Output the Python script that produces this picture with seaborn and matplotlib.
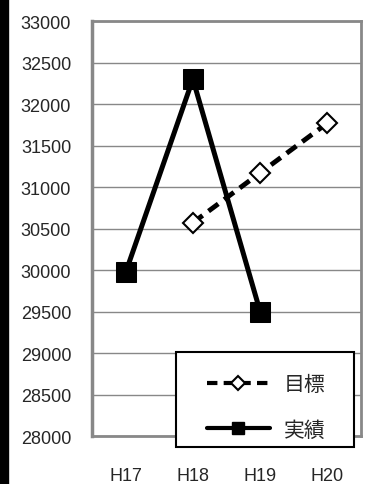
import matplotlib
matplotlib.use('Agg')
import matplotlib.pyplot as plt
from matplotlib.lines import Line2D
from matplotlib.patches import Rectangle
import seaborn as sns

categories = ['H17', 'H18', 'H19', 'H20']
actual_years = ['H17', 'H18', 'H19']
actual_vals = [29970, 32300, 29500]
target_years = ['H18', 'H19', 'H20']
target_vals = [30570, 31170, 31770]

sns.set_style('white')
plt.rcParams['font.family'] = ['Liberation Sans', 'Noto Sans CJK JP']

fig = plt.figure(figsize=(3.66, 4.85), dpi=100)
ax = fig.add_axes([92/366, 48/485, 269/366, 415/485])

xa = [categories.index(c) for c in actual_years]
xt = [categories.index(c) for c in target_years]

sns.lineplot(x=xt, y=target_vals, ax=ax, color='black', lw=3.5,
             linestyle=(0, (2.5, 1.5)), marker='D', markersize=10,
             markerfacecolor='white', markeredgecolor='black', markeredgewidth=1.5,
             zorder=3)
sns.lineplot(x=xa, y=actual_vals, ax=ax, color='black', lw=3.6,
             marker='s', markersize=14, markerfacecolor='black',
             markeredgecolor='black', zorder=4)

ax.set_xlim(-0.5, 3.5)
ax.set_ylim(28000, 33000)
ax.set_yticks(range(28000, 33001, 500))
ax.set_xticks(range(len(categories)))
ax.set_xticklabels(categories)
ax.set_xticks([0.5, 1.5, 2.5], minor=True)
ax.grid(axis='y', color='#888888', lw=1)
ax.set_axisbelow(True)
for s in ax.spines.values():
    s.set_color('#888888')
    s.set_linewidth(2)
ax.spines['left'].set_linewidth(2.5)
ax.tick_params(axis='y', length=0, pad=15, labelsize=13)
ax.tick_params(axis='x', which='major', length=0, pad=22, labelsize=13)
ax.tick_params(axis='x', which='minor', direction='in', length=4, color='#888888', width=1.5)

# legend box (drawn separately so its size matches the original)
box = Rectangle((176/366, 37/485), 178/366, 95/485, transform=fig.transFigure,
                facecolor='white', edgecolor='black', lw=1.5, zorder=5)
fig.patches.append(box)

handles = [
    Line2D([], [], color='black', lw=3, linestyle=(0, (2.5, 1.5)), marker='D',
           markersize=7, markerfacecolor='white', markeredgecolor='black', markeredgewidth=1.5),
    Line2D([], [], color='black', lw=3, marker='s', markersize=8,
           markerfacecolor='black'),
]
leg = fig.legend(handles, ['目標', '実績'], loc='upper left',
                 bbox_to_anchor=(207/366, 109/485), fontsize=15,
                 frameon=False, borderpad=0, borderaxespad=0,
                 handlelength=3.0, handletextpad=0.7, labelspacing=1.25)
leg.set_zorder(6)

fig.patches.append(Rectangle((0, 0), 8/366, 1, transform=fig.transFigure,
                             color='black', zorder=10))

fig.savefig('out.png', dpi=100)
